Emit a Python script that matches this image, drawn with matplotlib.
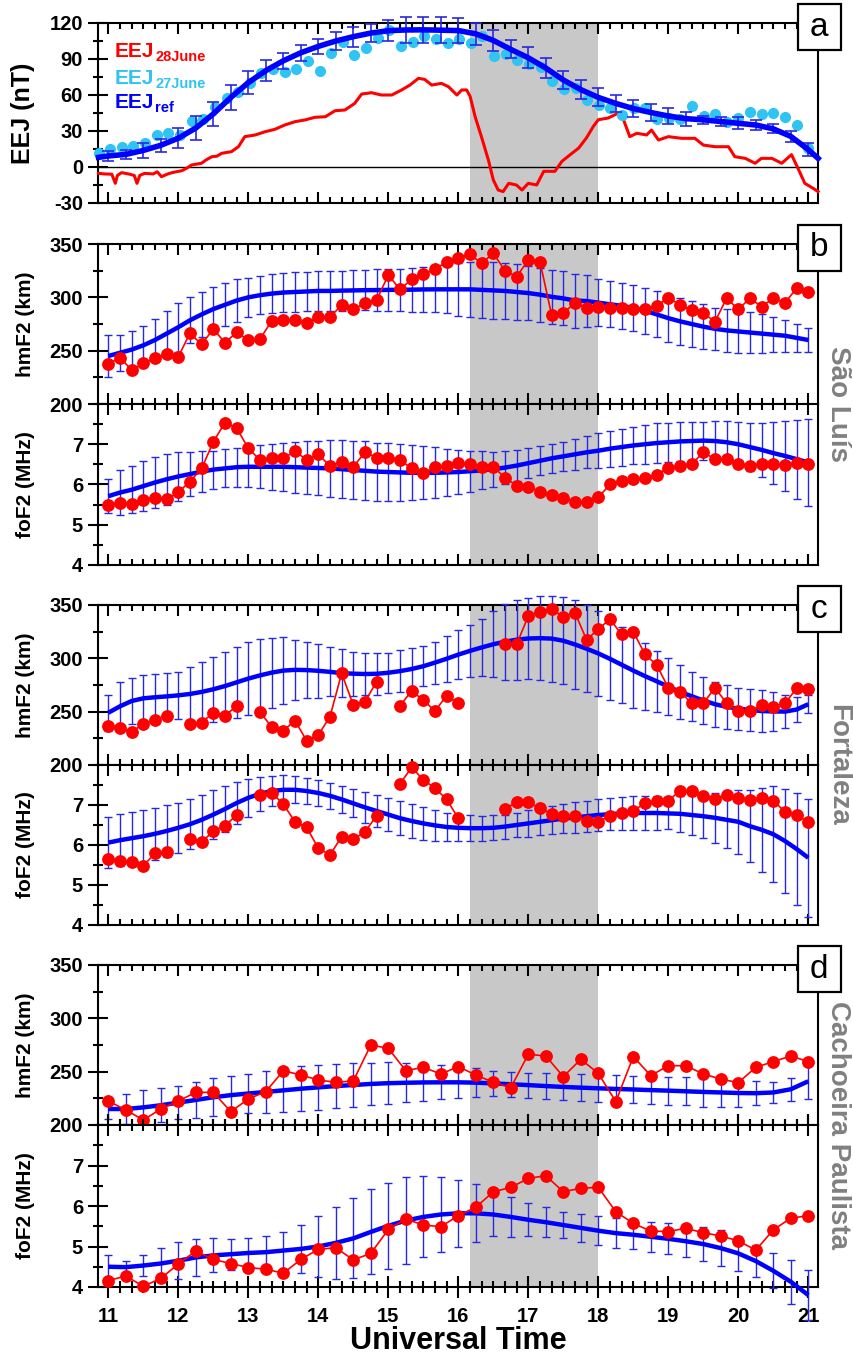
import numpy as np
import matplotlib.pyplot as plt
from matplotlib.ticker import MultipleLocator
from matplotlib.patches import Rectangle

plt.rcParams['font.family'] = ['Liberation Sans', 'DejaVu Sans']
plt.rcParams['font.weight'] = 'bold'
plt.rcParams['axes.unicode_minus'] = False

RED = '#ff0000'
BLUE = '#0000ff'
EBLUE = '#2828e0'
CYAN = '#30c4f2'
SHADE = '#c8c8c8'

# time grids (UT hours)
t10 = 11 + np.arange(61) / 6.0      # 10-min samples (Sao Luis, Fortaleza)
t15 = 11 + np.arange(41) / 4.0      # 15-min samples (EEJ ref, Cachoeira Paulista)
t_cyan = np.linspace(10.86, 21.0, 62)

# ---------------- panel a : EEJ ----------------
eej28_t = [10.86, 10.95, 11.05, 11.10, 11.13, 11.19, 11.29, 11.37, 11.41, 11.45,
           11.52, 11.64, 11.70, 11.76, 11.84, 11.91, 12.05, 12.12, 12.19, 12.33,
           12.40, 12.48, 12.55, 12.62, 12.76, 12.86, 12.95, 13.10, 13.24, 13.38,
           13.52, 13.67, 13.81, 13.95, 14.10, 14.24, 14.38, 14.52, 14.62, 14.76,
           14.90, 15.05, 15.19, 15.31, 15.43, 15.52, 15.62, 15.76, 15.86, 15.98,
           16.05, 16.12, 16.17, 16.24, 16.33, 16.43, 16.50, 16.57, 16.64, 16.72,
           16.83, 16.91, 17.00, 17.12, 17.22, 17.38, 17.48, 17.60, 17.72, 17.83,
           17.93, 18.00, 18.14, 18.29, 18.36, 18.45, 18.55, 18.69, 18.76, 18.86,
           19.00, 19.19, 19.38, 19.50, 19.67, 19.86, 19.95, 20.10, 20.24, 20.33,
           20.48, 20.62, 20.76, 20.86, 20.95, 21.07, 21.14]
eej28_v = [-5.3, -5.8, -6, -13.6, -7, -4.7, -5.8, -7, -13.6, -7,
           -5.3, -5.8, -4, -8.1, -6, -4.7, -3.1, -1, 1.7, 3.1,
           6, 8.6, 9, 11.4, 12.8, 17, 25.3, 26.7, 29.4, 31.4,
           35, 37.8, 39.2, 41.4, 41.9, 46.9, 47.5, 53, 60.8, 61.9,
           60, 60, 64.2, 68.3, 73.9, 73, 68.3, 69.7, 66.9, 60,
           64.2, 64.2, 58.6, 42, 25.3, 5.8, -10.8, -19.2, -20.5, -13.6,
           -15, -19.2, -13.6, -15, -3.6, -3.6, 4.7, 10.3, 15.8, 24.2,
           33.9, 39.4, 40.8, 45, 39.4, 25.3, 28.1, 26.7, 30.8, 22.5,
           25.3, 23.9, 23.9, 18.3, 16.9, 16.9, 8.6, 7.2, 3.1, 7.2,
           7.2, 3.1, 10.3, -2, -13.6, -17.8, -20.5]

eej27 = [11.9, 14.7, 16.4, 17.5, 19.7, 26.7, 28.6, 26.7, 38.6, 39.7,
         50.3, 57.2, 62.8, 70.3, 78.6, 81.4, 79.4, 81.4, 88.6, 80.3,
         95.3, 104.4, 93.3, 98.9, 107.2, 114.2, 100.8, 103.9, 109.2, 106.4,
         103.6, 106.4, 103.6, 109.2, 92.5, 94.2, 89.2, 85.8, 83.1, 71.9,
         64.7, 65.5, 55.8, 51.4, 48.9, 43.3, 48.9, 48.9, 39.7, 40.6,
         39.7, 50.8, 42.5, 44.2, 37.8, 40.6, 46.1, 44.2, 45.3, 41.4,
         35, 15.6]

eej_ref = [9.2, 10.5, 13.8, 18.1, 24, 32.5, 44.2, 58, 70.3, 80.3,
           88.5, 95.2, 100.5, 105, 108.6, 111.6, 113.6, 114.2, 114.3, 114,
           113.7, 111, 105.5, 98, 91, 82.5, 72.5, 64.5, 58, 53,
           48.7, 45.4, 42.5, 40.3, 39.3, 37.9, 36.4, 35, 31.8, 25.5, 14.5]
eej_ref_err = [4, 3.7, 6.5, 5.5, 8.3, 10, 10, 10.5, 9.5, 8.8,
               6.7, 6.7, 6.3, 7.2, 8.3, 7.5, 9, 10.5, 11, 11,
               10.5, 9, 9, 7.5, 8.8, 8, 7.5, 7.8, 7.5, 7.2,
               7, 6.7, 7, 5.8, 3.3, 3.8, 5, 4.2, 3.8, 4.3, 5.3]
eej_ref_ends = (8.0, 7.2)   # line values at the left/right frame

# ---------------- panel b : Sao Luis ----------------
slz_hm = [237.5, 243.4, 231.9, 238.1, 242.8, 246.6, 244.4, 266.3, 255.9, 270.3,
          257.5, 267.2, 260, 260.9, 277.8, 278.8, 278.8, 275.6, 281.9, 281.3,
          292.8, 288.8, 294.4, 297.5, 320.9, 307.5, 316.9, 321.6, 326.3, 333.4,
          336.6, 340.3, 331.9, 341.3, 325, 319.4, 335, 333.4, 283.4, 285,
          295, 289.7, 291.3, 290.3, 289.7, 288.8, 288.8, 291.9, 299.7, 292.8,
          288.1, 285, 277.2, 299.1, 288.8, 299.1, 291.3, 299.1, 295, 308.4, 305.3]
slz_hm_ref = [245, 248, 251, 255, 260, 266, 272, 278.5, 284, 289,
              293, 297, 300, 302, 303.5, 304.5, 305, 305.5, 306, 306,
              306.3, 306.5, 306.7, 306.8, 307, 307, 307.2, 307.4, 307.5, 307.5,
              307.5, 307.5, 307, 306.5, 306, 305, 304, 302.5, 300.5, 299,
              297, 296.5, 295, 293.5, 292, 290, 287.5, 284, 280.5, 277.5,
              275, 272.5, 270.5, 269, 268, 267, 266, 265, 264, 262, 260]
slz_hm_err = [20, 17, 17.5, 18, 20, 21, 23, 21.5, 21, 21,
              20, 20, 18, 18, 18.5, 18.5, 18.5, 18.5, 18.5, 18.5,
              18.7, 18.8, 19, 19.3, 19.6, 20, 20.5, 21, 21.6, 22.5,
              25, 26, 26.5, 26.5, 26, 26, 25.5, 25.3, 25.3, 25.3,
              25.3, 24, 22, 21.5, 21.5, 21.5, 21.5, 21.5, 22, 22,
              22, 21, 19.5, 20, 20, 19, 18, 16.5, 15, 13, 11.5]
slz_fo = [5.49, 5.53, 5.51, 5.61, 5.66, 5.63, 5.81, 6.07, 6.40, 7.06,
          7.54, 7.40, 6.90, 6.61, 6.67, 6.65, 6.83, 6.61, 6.75, 6.46,
          6.57, 6.44, 6.80, 6.67, 6.67, 6.61, 6.40, 6.28, 6.44, 6.46,
          6.54, 6.50, 6.44, 6.44, 6.17, 5.97, 5.95, 5.82, 5.74, 5.67,
          5.57, 5.57, 5.68, 6.00, 6.09, 6.13, 6.15, 6.24, 6.42, 6.46,
          6.50, 6.80, 6.63, 6.63, 6.50, 6.47, 6.50, 6.50, 6.48, 6.54, 6.51]
slz_fo_ref = [5.71, 5.8, 5.87, 5.96, 6.05, 6.13, 6.2, 6.26, 6.32, 6.37,
              6.4, 6.43, 6.44, 6.44, 6.44, 6.44, 6.43, 6.42, 6.41, 6.4,
              6.38, 6.36, 6.34, 6.32, 6.31, 6.3, 6.29, 6.29, 6.29, 6.3,
              6.31, 6.33, 6.35, 6.38, 6.42, 6.47, 6.53, 6.59, 6.65, 6.7,
              6.75, 6.8, 6.84, 6.89, 6.93, 6.97, 7.0, 7.03, 7.05, 7.07,
              7.08, 7.09, 7.08, 7.05, 7.0, 6.93, 6.86, 6.78, 6.71, 6.63, 6.55]
slz_fo_err = [0.43, 0.55, 0.58, 0.62, 0.63, 0.63, 0.6, 0.55, 0.5, 0.47,
              0.47, 0.48, 0.5, 0.53, 0.57, 0.6, 0.63, 0.66, 0.68, 0.7,
              0.72, 0.73, 0.73, 0.72, 0.72, 0.7, 0.68, 0.66, 0.63, 0.58,
              0.54, 0.51, 0.47, 0.43, 0.4, 0.38, 0.37, 0.36, 0.36, 0.36,
              0.38, 0.4, 0.43, 0.45, 0.46, 0.47, 0.48, 0.49, 0.49, 0.48,
              0.47, 0.47, 0.5, 0.52, 0.55, 0.6, 0.68, 0.78, 0.88, 0.98, 1.08]

# ---------------- panel c : Fortaleza ----------------
nan = np.nan
ftz_hm = [236.6, 234.4, 231.3, 238.4, 242.2, 246.3, nan, 238.4, 239.7, 249.1,
          246.3, 255.3, nan, 249.4, 235.9, 232.2, 241.6, 222.8, 228.1, 245.3,
          285.9, 256.3, 259.4, 278.1, nan, 255.6, 269.4, 260.9, 250.6, 265,
          257.8, nan, nan, nan, 313.1, 313.1, 339.7, 343.8, 345.9, 339.1,
          342.8, 317.2, 327.5, 336.6, 322.5, 325, 303.8, 293.8, 272.5, 268.8,
          257.8, 257.8, 272.5, 257.8, 250.6, 250.6, 256.3, 254.7, 257.8, 271.9, 271.3]
ftz_hm_ref = [249, 255, 260, 262.5, 263.5, 264.3, 265.3, 266.6, 268.5, 271,
              274, 277.5, 281, 284, 286.6, 288.5, 289.2, 289, 288.3, 287.3,
              286.1, 285.6, 285.3, 285.5, 286.5, 288, 290, 292.6, 296, 299.6,
              303.5, 307, 310.2, 313.2, 315.6, 317.5, 318.6, 318.9, 318.5, 316.5,
              313, 309, 304.6, 299.5, 294, 288.5, 283.3, 278.5, 273.5, 268.6,
              264.5, 260.5, 257, 254.5, 252.8, 251.6, 250.6, 250.2, 250.1, 252, 257]
ftz_hm_err = [17, 22.5, 22, 21.5, 21.5, 21.7, 22, 25, 28.5, 30.5,
              32, 33.5, 34.5, 33.8, 32.8, 31.5, 28, 26, 25.5, 23,
              22.3, 20.5, 19.4, 19.5, 18.8, 19.5, 19.4, 19, 19.6, 21.4,
              23, 24.3, 27, 31, 35.5, 37.5, 38.3, 39.5, 40.3, 40.7,
              41.7, 41, 40, 38.9, 35.7, 34.9, 31.4, 28.7, 26.5, 25.2,
              23, 22.3, 21.1, 20.5, 19.7, 19.7, 19.7, 18.6, 15.5, 11.4, 8.6]
ftz_fo = [5.64, 5.6, 5.57, 5.48, 5.79, 5.83, nan, 6.14, 6.07, 6.35,
          6.48, 6.75, nan, 7.25, 7.31, 7.02, 6.58, 6.44, 5.92, 5.75,
          6.21, 6.14, 6.33, 6.73, nan, 7.53, 7.94, 7.63, 7.42, 7.14,
          6.67, nan, nan, nan, 6.89, 7.08, 7.07, 6.92, 6.78, 6.73,
          6.73, 6.61, 6.58, 6.73, 6.79, 6.86, 7.04, 7.1, 7.1, 7.36,
          7.36, 7.23, 7.14, 7.25, 7.17, 7.12, 7.17, 7.11, 6.83, 6.75, 6.57]
ftz_fo_ref = [6.06, 6.12, 6.17, 6.22, 6.28, 6.35, 6.43, 6.52, 6.63, 6.76,
              6.9, 7.05, 7.18, 7.28, 7.35, 7.38, 7.38, 7.35, 7.3, 7.23,
              7.14, 7.04, 6.94, 6.85, 6.76, 6.67, 6.6, 6.54, 6.49, 6.45,
              6.43, 6.42, 6.42, 6.43, 6.46, 6.5, 6.54, 6.58, 6.62, 6.66,
              6.69, 6.72, 6.75, 6.77, 6.79, 6.8, 6.8, 6.8, 6.79, 6.78,
              6.75, 6.72, 6.68, 6.63, 6.58, 6.47, 6.38, 6.27, 6.1, 5.9, 5.68]
ftz_fo_err = [0.63, 0.65, 0.66, 0.66, 0.65, 0.64, 0.63, 0.63, 0.63, 0.62,
              0.58, 0.53, 0.47, 0.42, 0.38, 0.36, 0.34, 0.33, 0.33, 0.32,
              0.33, 0.35, 0.38, 0.41, 0.42, 0.43, 0.43, 0.41, 0.39, 0.36,
              0.33, 0.32, 0.31, 0.31, 0.3, 0.31, 0.33, 0.34, 0.35, 0.36,
              0.38, 0.39, 0.4, 0.4, 0.41, 0.42, 0.42, 0.42, 0.4, 0.45,
              0.5, 0.55, 0.63, 0.71, 0.8, 0.9, 1.05, 1.2, 1.3, 1.41, 1.47]

# ---------------- panel d : Cachoeira Paulista ----------------
cxp_hm = [222.5, 214.1, 204.7, 215, 222.5, 230.6, 230.6, 212.5, 224.4, 231.3,
          250.9, 246.9, 242.2, 240, 241.3, 275, 271.9, 250.9, 254.1, 247.8,
          254.7, 246.9, 240, 235, 266.3, 264.7, 245.3, 261.6, 248.4, 221.9,
          264.1, 246.3, 255.6, 255.6, 247.8, 243.1, 239.7, 254.1, 259.4, 264.7, 259.4]
cxp_hm_ref = [215, 215, 216.5, 218.5, 221, 223.5, 226, 228, 229.5, 231,
              232.5, 234, 235.3, 236.5, 237.5, 238.5, 239.2, 239.6, 239.9, 240,
              240, 239.7, 239, 238.2, 237.4, 236.5, 235.7, 235, 234.4, 233.8,
              233.3, 232.7, 232.2, 231.6, 231, 230.5, 230, 229.8, 230.5, 233.5, 241]
cxp_hm_err = [9, 14, 16.5, 16, 15.6, 16.5, 17.8, 18.3, 18.7, 19.5,
              20.5, 21, 21, 21, 20.6, 20, 19.5, 18.5, 17.3, 16,
              14.8, 13.3, 12, 11.8, 11.7, 12, 12.2, 12.4, 12.5, 12.8,
              13, 13, 13, 13.3, 13.7, 13.5, 13.4, 11.5, 9.5, 11, 16.5]
cxp_fo = [4.16, 4.27, 4.02, 4.21, 4.57, 4.89, 4.68, 4.58, 4.48, 4.44,
          4.34, 4.68, 4.93, 4.97, 4.67, 4.83, 5.42, 5.68, 5.53, 5.49,
          5.76, 5.97, 6.35, 6.46, 6.68, 6.75, 6.35, 6.44, 6.46, 5.86,
          5.57, 5.38, 5.37, 5.45, 5.34, 5.26, 5.14, 4.91, 5.41, 5.7, 5.76]
cxp_fo_ref = [4.5, 4.49, 4.53, 4.58, 4.65, 4.73, 4.78, 4.81, 4.84, 4.86,
              4.9, 4.94, 5.0, 5.09, 5.2, 5.36, 5.51, 5.64, 5.73, 5.79,
              5.82, 5.82, 5.79, 5.73, 5.66, 5.6, 5.53, 5.46, 5.39, 5.33,
              5.29, 5.24, 5.19, 5.13, 5.06, 4.96, 4.83, 4.64, 4.4, 4.13, 3.8]
cxp_fo_err = [0.3, 0.15, 0.26, 0.39, 0.45, 0.45, 0.42, 0.38, 0.36, 0.4,
              0.47, 0.6, 0.75, 0.89, 0.99, 1.05, 1.07, 1.07, 1.0, 0.92,
              0.82, 0.72, 0.52, 0.5, 0.41, 0.37, 0.33, 0.34, 0.36, 0.37,
              0.36, 0.37, 0.38, 0.39, 0.41, 0.45, 0.43, 0.4, 0.43, 0.54, 0.62]

storm = (16.17, 18.0)   # shaded interval

# ---------------- layout (pixel based) ----------------
W, H = 854, 1365
fig = plt.figure(figsize=(W / 100, H / 100), dpi=100)
X0, X1 = 98.3, 818.3


def axes_px(top, bottom):
    return fig.add_axes([X0 / W, 1 - bottom / H, (X1 - X0) / W, (bottom - top) / H])


def style(ax, last=False):
    ax.set_xlim(10.857, 21.143)
    ax.xaxis.set_major_locator(MultipleLocator(1))
    ax.xaxis.set_minor_locator(MultipleLocator(1 / 6))
    if last:
        ax.tick_params(axis='x', which='both', direction='inout', top=True, bottom=True,
                       width=1.5, labelsize=14.5, pad=7)
        ax.tick_params(axis='x', which='major', length=15.5)
        ax.tick_params(axis='x', which='minor', length=8.5)
    else:
        ax.tick_params(axis='x', which='both', direction='in', top=True, bottom=True,
                       width=1.5, labelbottom=False)
        ax.tick_params(axis='x', which='major', length=8)
        ax.tick_params(axis='x', which='minor', length=4.5)
    ax.tick_params(axis='y', which='both', direction='inout', left=True, right=False,
                   width=1.5, labelsize=14.5, pad=4)
    ax.tick_params(axis='y', which='major', length=14)
    ax.tick_params(axis='y', which='minor', length=7)
    for sp in ax.spines.values():
        sp.set_linewidth(1.5)
    ax.axvspan(storm[0], storm[1], color=SHADE, lw=0, zorder=0)


def ref_curve(ax, t, mean, err, lw=3.2, cap=3.2):
    eb = ax.errorbar(t, mean, yerr=err, fmt='none', ecolor=EBLUE, elinewidth=1.0,
                     capsize=cap, capthick=1.0, zorder=3)
    for a in list(eb[1]) + list(eb[2]):
        a.set_clip_on(False)
    ax.plot(t, mean, color=BLUE, lw=lw, zorder=4, clip_on=False, solid_capstyle='butt')


def obs_curve(ax, t, vals):
    ax.plot(t, vals, '-o', color=RED, lw=1.2, ms=8.2, mec=RED, zorder=5, clip_on=False)


def hm_axes(ax):
    ax.set_ylim(200, 350)
    ax.set_yticks([200, 250, 300, 350])
    ax.yaxis.set_minor_locator(MultipleLocator(25))
    ax.set_ylabel('hmF2 (km)', fontsize=15, fontweight='bold')
    ax.yaxis.set_label_coords(-0.088, 0.5)


def fo_axes(ax):
    ax.set_ylim(4, 8)
    ax.set_yticks([4, 5, 6, 7])
    ax.yaxis.set_minor_locator(MultipleLocator(0.5))
    ax.set_ylabel('foF2 (MHz)', fontsize=15, fontweight='bold')
    ax.yaxis.set_label_coords(-0.088, 0.5)


def letter(ch, top):
    cx, cy = X1 + 1, top + 4
    w, h = 43, 46
    fig.add_artist(Rectangle(((cx - w / 2) / W, 1 - (cy + h / 2) / H), w / W, h / H,
                             transform=fig.transFigure, facecolor='white',
                             edgecolor='black', lw=1.6, zorder=10))
    fig.text(cx / W, 1 - cy / H, ch, ha='center', va='center', fontsize=24,
             fontweight='normal', zorder=11)


def station(name, y_px):
    fig.text(838 / W, 1 - y_px / H, name, rotation=-90, ha='center', va='center',
             fontsize=20, fontweight='bold', color='#808080')


# ---------------- panel a ----------------
ax_a = axes_px(23, 203)
style(ax_a)
ax_a.set_ylim(-30, 120)
ax_a.set_yticks([-30, 0, 30, 60, 90, 120])
ax_a.yaxis.set_minor_locator(MultipleLocator(15))
ax_a.axhline(0, color='black', lw=1.0, zorder=1)
ax_a.plot(eej28_t, eej28_v, color=RED, lw=2.2, zorder=3, clip_on=False)
ax_a.plot(t_cyan, eej27, 'o', color=CYAN, ms=7, mec=CYAN, zorder=4, clip_on=False)
eb = ax_a.errorbar(t15, eej_ref, yerr=eej_ref_err, fmt='none', ecolor=EBLUE,
                   elinewidth=1.2, capsize=4, capthick=1.2, zorder=5)
for a in list(eb[1]) + list(eb[2]):
    a.set_clip_on(False)
ax_a.plot(np.concatenate(([10.86], t15, [21.14])),
          np.concatenate(([eej_ref_ends[0]], eej_ref, [eej_ref_ends[1]])),
          color=BLUE, lw=4, zorder=6, clip_on=False)
ax_a.set_ylabel('EEJ (nT)', fontsize=18, fontweight='bold')
ax_a.yaxis.set_label_coords(-0.088, 0.5)

for base_px, sub, col in [(56.7, '28June', RED), (84, '27June', CYAN), (107.5, 'ref', BLUE)]:
    tx = fig.text(115 / W, 1 - base_px / H, 'EEJ', color=col, fontsize=15,
                  fontweight='bold', va='baseline', zorder=8)
    ax_a.annotate(sub, xy=(1, 0), xycoords=tx, xytext=(0.5, 0), textcoords='offset points',
                  fontsize=10.5, fontweight='bold', color=col, va='baseline', ha='left',
                  annotation_clip=False)

# ---------------- panels b, c, d ----------------
ax_b1 = axes_px(244, 404)
ax_b2 = axes_px(404, 565)
ax_c1 = axes_px(605, 765)
ax_c2 = axes_px(765, 925)
ax_d1 = axes_px(965, 1125)
ax_d2 = axes_px(1125, 1287)

for ax in [ax_b1, ax_c1, ax_d1]:
    style(ax)
    hm_axes(ax)
for ax in [ax_b2, ax_c2]:
    style(ax)
    fo_axes(ax)
style(ax_d2, last=True)
fo_axes(ax_d2)

ref_curve(ax_b1, t10, slz_hm_ref, slz_hm_err)
obs_curve(ax_b1, t10, slz_hm)
ref_curve(ax_b2, t10, slz_fo_ref, slz_fo_err)
obs_curve(ax_b2, t10, slz_fo)

ref_curve(ax_c1, t10, ftz_hm_ref, ftz_hm_err)
obs_curve(ax_c1, t10, ftz_hm)
ref_curve(ax_c2, t10, ftz_fo_ref, ftz_fo_err)
obs_curve(ax_c2, t10, ftz_fo)

ref_curve(ax_d1, t15, cxp_hm_ref, cxp_hm_err)
obs_curve(ax_d1, t15, cxp_hm)
ref_curve(ax_d2, t15, cxp_fo_ref, cxp_fo_err)
obs_curve(ax_d2, t15, cxp_fo)

ax_d2.set_xlabel('Universal Time', fontsize=22, fontweight='bold', labelpad=0)

letter('a', 23)
letter('b', 244)
letter('c', 605)
letter('d', 965)

station('São Luís', 404)
station('Fortaleza', 765)
station('Cachoeira Paulista', 1125)

fig.savefig('out.png', dpi=100)
